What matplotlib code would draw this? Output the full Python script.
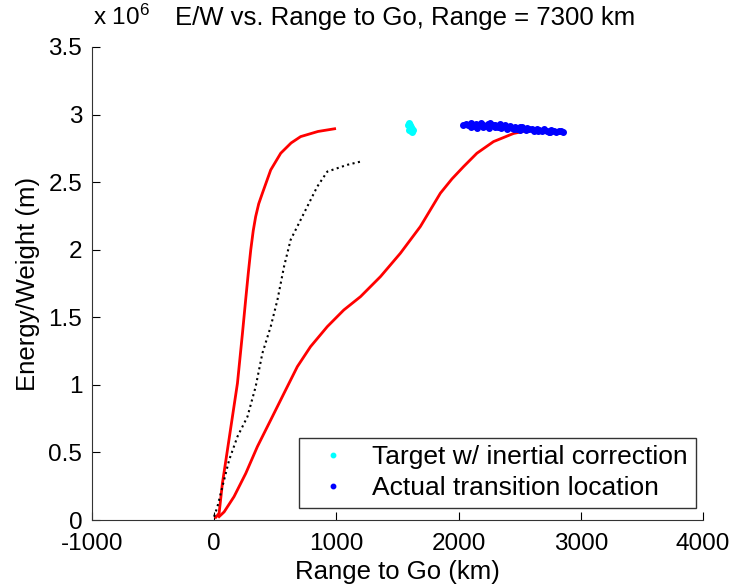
import matplotlib
matplotlib.use('Agg')
import matplotlib.pyplot as plt

plt.rcParams['font.family'] = ['Liberation Sans', 'DejaVu Sans']
plt.rcParams['mathtext.fontset'] = 'custom'
plt.rcParams['mathtext.rm'] = 'Liberation Sans'
plt.rcParams['mathtext.it'] = 'Liberation Sans'
plt.rcParams['axes.unicode_minus'] = False

# E/W values in units of 1e6 m, range to go in km
steep_x = [14, 41, 68, 109, 150, 191, 232, 258, 280, 300, 320, 340, 365, 395, 463, 545, 630, 708, 850, 986]
steep_y = [0.02, 0.05, 0.272, 0.518, 0.765, 1.012, 1.382, 1.628, 1.83, 2.0, 2.14, 2.245, 2.34, 2.418,
           2.59, 2.714, 2.79, 2.837, 2.875, 2.895]

shallow_x = [41, 82, 163, 259, 354, 463, 572, 681, 789, 926, 1061, 1198, 1361, 1524, 1687, 1851,
             1946, 2041, 2150, 2286, 2449, 2607]
shallow_y = [0.025, 0.06, 0.173, 0.345, 0.543, 0.74, 0.938, 1.135, 1.283, 1.431, 1.554, 1.653, 1.801,
             1.974, 2.171, 2.418, 2.524, 2.615, 2.714, 2.80, 2.86, 2.89]

nominal_x = [0, 27, 68, 123, 191, 273, 340, 395, 463, 518, 572, 626, 735, 844, 926, 1089, 1198]
nominal_y = [0.025, 0.098, 0.247, 0.444, 0.617, 0.765, 0.987, 1.234, 1.431, 1.628, 1.875, 2.073, 2.27,
             2.467, 2.578, 2.628, 2.652]

target_x = [1590, 1598, 1605, 1612, 1620, 1595, 1608, 1625, 1615, 1600]
target_y = [2.92, 2.935, 2.925, 2.91, 2.895, 2.885, 2.875, 2.885, 2.87, 2.9]

actual_x = [2040, 2060, 2080, 2100, 2120, 2140, 2160, 2180, 2200, 2220, 2240, 2260, 2280, 2300,
            2320, 2340, 2360, 2380, 2400, 2420, 2440, 2460, 2480, 2500, 2520, 2540, 2560, 2580,
            2600, 2620, 2640, 2660, 2680, 2700, 2720, 2740, 2760, 2780, 2800, 2820, 2840, 2855,
            2100, 2150, 2200, 2250, 2300, 2350, 2400, 2450, 2500, 2550, 2650, 2750]
actual_y = [2.925, 2.93, 2.92, 2.935, 2.915, 2.93, 2.92, 2.94, 2.925, 2.915, 2.93, 2.935, 2.92, 2.925,
            2.91, 2.93, 2.915, 2.92, 2.905, 2.915, 2.9, 2.91, 2.895, 2.905, 2.91, 2.895, 2.9, 2.89,
            2.895, 2.88, 2.89, 2.885, 2.875, 2.89, 2.88, 2.87, 2.885, 2.875, 2.87, 2.88, 2.875, 2.87,
            2.905, 2.9, 2.91, 2.9, 2.905, 2.9, 2.895, 2.89, 2.885, 2.885, 2.875, 2.87]

fig = plt.figure(figsize=(7.35, 5.86), dpi=100)
ax = fig.add_axes([0.125, 0.1126, 0.8315, 0.8072])

ax.plot(steep_x, steep_y, color='red', lw=2)
ax.plot(shallow_x, shallow_y, color='red', lw=2)
ax.plot(nominal_x, nominal_y, color='black', lw=1.5, linestyle=':')
ax.plot(target_x, target_y, 'o', color='cyan', ms=4, label='Target w/ inertial correction')
ax.plot(actual_x, actual_y, 'o', color='blue', ms=4, label='Actual transition location')

ax.set_xlim(-1000, 4000)
ax.set_ylim(0, 3.5)
ax.set_xticks([-1000, 0, 1000, 2000, 3000, 4000])
ax.set_yticks([0, 0.5, 1, 1.5, 2, 2.5, 3, 3.5])
ax.set_yticklabels(['0', '0.5', '1', '1.5', '2', '2.5', '3', '3.5'])
ax.spines['top'].set_visible(False)
ax.spines['right'].set_visible(False)
for s in ['left', 'bottom']:
    ax.spines[s].set_color('#333333')
ax.tick_params(direction='in', length=6, labelsize=17.5, colors='black')
ax.tick_params(axis='x', pad=9)
ax.tick_params(axis='y', pad=7)

ax.set_xlabel('Range to Go (km)', fontsize=18.5, labelpad=4)
ax.set_ylabel('Energy/Weight (m)', fontsize=18.5, labelpad=6)
ax.text(0.002, 1.0465, 'x 10$^{6}$', transform=ax.transAxes, fontsize=17.5, ha='left', va='baseline')
ax.text(0.512, 1.0465, 'E/W vs. Range to Go, Range = 7300 km', transform=ax.transAxes,
        fontsize=18.5, ha='center', va='baseline')

leg = ax.legend(loc='lower right', bbox_to_anchor=(0.9885, 0.0254), fontsize=19, frameon=True,
                fancybox=False, edgecolor='black', handlelength=2.0, markerscale=0.8,
                borderpad=0.3, labelspacing=0.25, handletextpad=0.5, borderaxespad=0)
leg.get_frame().set_linewidth(1)

fig.savefig('out.png', dpi=100)
